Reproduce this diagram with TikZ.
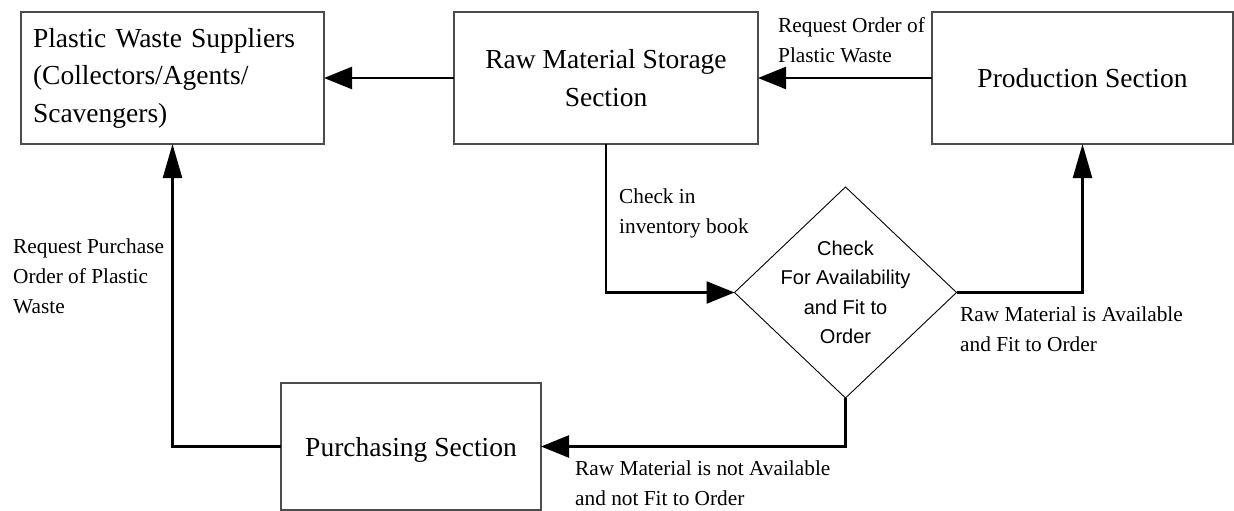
\documentclass[tikz,border=0pt]{standalone}
\usepackage{fontspec}
\setmainfont{Liberation Serif}
\newfontfamily\diamfont{Liberation Sans}
\usetikzlibrary{arrows.meta,shapes.geometric}
\begin{document}
\begin{tikzpicture}[x=1pt,y=-1pt,
  box/.style={draw=black!70, line width=1.1pt, inner sep=0pt, outer sep=0pt, align=center,
              font=\fontsize{27.5}{37.5}\selectfont},
  conn/.style={line width=2.4pt, line join=miter},
  harr/.style={-{Triangle[length=28pt,width=22pt]}},
  varr/.style={-{Triangle[length=34pt,width=19pt]}},
  lbl/.style={inner sep=0pt, anchor=north west, align=left, font=\fontsize{21.3}{30}\selectfont}]
\useasboundingbox (0,0) rectangle (1234,511);

% boxes
\node[box, align=left, text width=279pt, inner xsep=12pt, minimum height=132pt] (sup) at (172.5,78)
  {Plastic Waste Suppliers\\(Collectors/Agents/\\Scavengers)};
\node[box, minimum width=304pt, minimum height=132pt] (raw) at (606,78)
  {Raw Material Storage\\Section};
\node[box, minimum width=301pt, minimum height=132pt] (prod) at (1082.5,78)
  {Production Section};
\node[box, minimum width=260pt, minimum height=127pt, text depth=0pt] (pur) at (411,446.5)
  {Purchasing Section};

% decision
\node[diamond, draw, line width=0.9pt, inner sep=0pt, outer sep=0pt,
      minimum width=222pt, minimum height=211pt] (chk) at (845.5,292.5) {};
\node[inner sep=0pt, align=center, font=\diamfont\fontsize{20}{29.5}\selectfont] (chktxt) at (chk.center)
  {Check\\For Availability\\and Fit to\\Order};

% connectors
\draw[conn, harr] (raw.west) -- (sup.east);
\draw[conn, harr] (prod.west) -- (raw.east);
\draw[conn, harr] (raw.south) |- (chk.west);
\draw[conn, varr] (chk.east) -| (prod.south);
\draw[conn, harr] (chk.south) |- (pur.east);
\draw[conn, varr] (pur.west) -| (sup.south);

% labels
\node[lbl] (lreq) at (778,17.5) {Request Order of\\Plastic Waste};
\node[lbl] (linv) at (619,188.5) {Check in\\inventory book};
\node[lbl] (lpur) at (13,238.5) {Request Purchase\\Order of Plastic\\Waste};
\node[lbl] (lyes) at (960,306.5) {Raw Material is Available\\and Fit to Order};
\node[lbl] (lno) at (575,460.5) {Raw Material is not Available\\and not Fit to Order};
\end{tikzpicture}
\end{document}
